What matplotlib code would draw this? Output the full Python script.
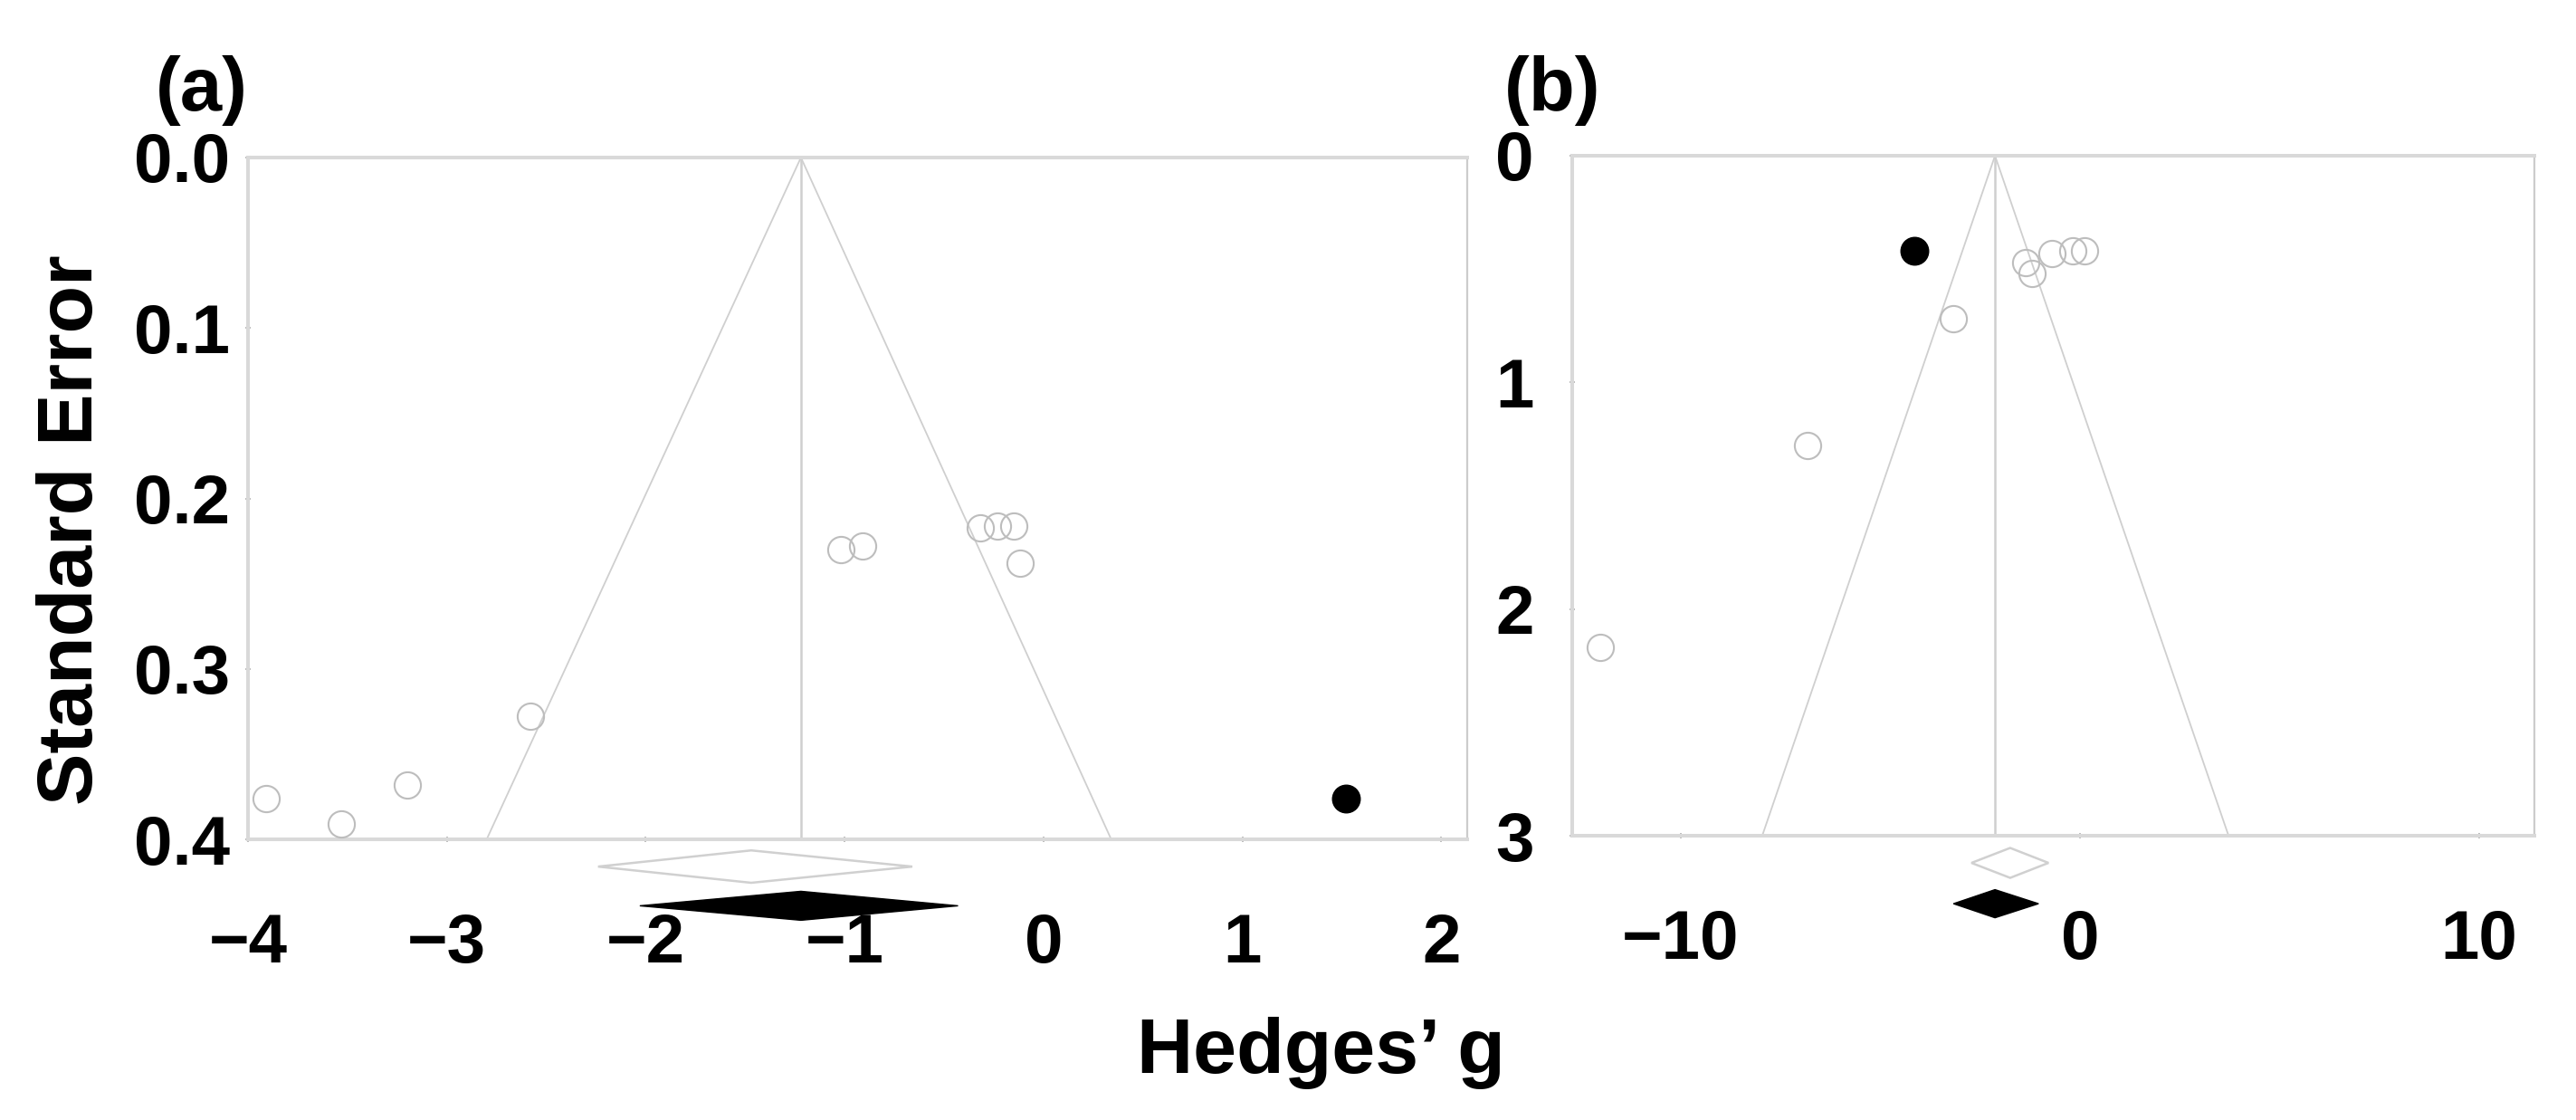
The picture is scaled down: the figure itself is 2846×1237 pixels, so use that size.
import matplotlib
matplotlib.use("Agg")
import matplotlib.pyplot as plt
from matplotlib.patches import Polygon

# ---------------- data ----------------
# Panel (a)
a_open_g = [-3.91, -3.53, -3.20, -2.58, -1.02, -0.91, -0.32, -0.23, -0.15, -0.12]
a_open_se = [0.376, 0.391, 0.368, 0.328, 0.230, 0.228, 0.217, 0.216, 0.216, 0.238]
a_fill_g = [1.52]
a_fill_se = [0.376]
a_center = -1.22
a_funnel_g = [-2.80, -1.22, 0.34]
a_funnel_se = [0.40, 0.0, 0.40]
a_diamond_open = [-2.24, -1.47, -0.66]   # lower, point, upper
a_diamond_fill = [-2.03, -1.22, -0.43]
a_xticks = [-4, -3, -2, -1, 0, 1, 2]
a_yticks = [0.0, 0.1, 0.2, 0.3, 0.4]
a_yticklabels = ["0.0", "0.1", "0.2", "0.3", "0.4"]

# Panel (b)
b_open_g = [-12.02, -6.83, -3.17, -1.36, -1.20, -0.70, -0.18, 0.11]
b_open_se = [2.17, 1.28, 0.72, 0.47, 0.52, 0.43, 0.42, 0.42]
b_fill_g = [-4.15]
b_fill_se = [0.42]
b_center = -2.13
b_funnel_g = [-7.96, -2.13, 3.72]
b_funnel_se = [3.0, 0.0, 3.0]
b_diamond_open = [-2.72, -1.75, -0.79]
b_diamond_fill = [-3.17, -2.13, -1.04]
b_xticks = [-10, 0, 10]
b_yticks = [0, 1, 2, 3]
b_yticklabels = ["0", "1", "2", "3"]

xlabel = "Hedges\u2019 g"
ylabel = "Standard Error"

# ---------------- style ----------------
plt.rcParams["font.family"] = ["Liberation Sans", "DejaVu Sans"]
plt.rcParams["font.weight"] = "bold"
plt.rcParams["axes.unicode_minus"] = True

W, H = 2846, 1237
fig = plt.figure(figsize=(W / 100, H / 100), dpi=100)
fig.patch.set_facecolor("white")

AXC = "#d9d9d9"
LINEC = "#cfcfcf"
CIRC = "#bdbdbd"
TICKFS = 55
LABFS = 62


def px_axes(left, top, right, bottom):
    return fig.add_axes([left / W, 1 - bottom / H, (right - left) / W, (bottom - top) / H])


def style(ax, ypad):
    for s in ["left", "bottom", "top"]:
        ax.spines[s].set_color(AXC)
        ax.spines[s].set_linewidth(2.9)
    ax.spines["right"].set_color("#cccccc")
    ax.spines["right"].set_linewidth(1.6)
    ax.tick_params(axis="both", direction="inout", length=5, width=1.4, color="#bdbdbd",
                   labelsize=TICKFS)
    ax.tick_params(axis="x", pad=56)
    ax.tick_params(axis="y", pad=ypad)
    for lab in ax.get_xticklabels() + ax.get_yticklabels():
        lab.set_fontweight("bold")


def diamond(ax, vals, yc, h, filled):
    lo, mid, hi = vals
    pts = [(lo, yc), (mid, yc - h), (hi, yc), (mid, yc + h)]
    if filled:
        p = Polygon(pts, closed=True, facecolor="black", edgecolor="black", lw=1.0, clip_on=False)
    else:
        p = Polygon(pts, closed=True, facecolor="white", edgecolor="#d0d0d0", lw=1.8, clip_on=False)
    ax.add_patch(p)


# ---------------- panel (a) ----------------
axa = px_axes(274, 174, 1621, 927)
axa.set_xlim(-4.0, 2.13)
axa.set_ylim(0.4, 0.0)
axa.plot(a_funnel_g, a_funnel_se, color=LINEC, lw=1.3, zorder=1)
axa.plot([a_center, a_center], [0.0, 0.4], color=LINEC, lw=1.8, zorder=1)
axa.plot(a_open_g, a_open_se, linestyle="none", marker="o", markersize=21,
         markerfacecolor="none", markeredgecolor=CIRC, markeredgewidth=1.5, zorder=3)
axa.plot(a_fill_g, a_fill_se, linestyle="none", marker="o", markersize=22,
         markerfacecolor="black", markeredgecolor="black", zorder=3)
diamond(axa, a_diamond_open, 0.416, 0.0095, False)
diamond(axa, a_diamond_fill, 0.439, 0.0085, True)
axa.set_xticks(a_xticks)
axa.set_xticklabels([str(t).replace("-", "\u2212") for t in a_xticks])
axa.set_yticks(a_yticks)
axa.set_yticklabels(a_yticklabels)
style(axa, ypad=12)

# ---------------- panel (b) ----------------
axb = px_axes(1737, 172, 2800, 923)
axb.set_xlim(-12.72, 11.38)
axb.set_ylim(3.0, 0.0)
axb.plot(b_funnel_g, b_funnel_se, color=LINEC, lw=1.3, zorder=1)
axb.plot([b_center, b_center], [0.0, 3.0], color=LINEC, lw=1.8, zorder=1)
axb.plot(b_open_g, b_open_se, linestyle="none", marker="o", markersize=21,
         markerfacecolor="none", markeredgecolor=CIRC, markeredgewidth=1.5, zorder=3)
axb.plot(b_fill_g, b_fill_se, linestyle="none", marker="o", markersize=22,
         markerfacecolor="black", markeredgecolor="black", zorder=3)
diamond(axb, b_diamond_open, 3.12, 0.066, False)
diamond(axb, b_diamond_fill, 3.30, 0.062, True)
axb.set_xticks(b_xticks)
axb.set_xticklabels([str(t).replace("-", "\u2212") for t in b_xticks])
axb.set_yticks(b_yticks)
axb.set_yticklabels(b_yticklabels)
style(axb, ypad=28)

# ---------------- labels ----------------
fig.text(1459 / W, 1 - 1185 / H, xlabel, ha="center", va="baseline",
         fontsize=LABFS, fontweight="bold")
fig.text(80 / W, 1 - 585 / H, ylabel, ha="center", va="center", rotation=90,
         fontsize=LABFS, fontweight="bold")
fig.text(223 / W, 1 - 100 / H, "(a)", ha="center", va="center", fontsize=60, fontweight="bold")
fig.text(1715 / W, 1 - 100 / H, "(b)", ha="center", va="center", fontsize=60, fontweight="bold")

fig.savefig("out.png", dpi=100, facecolor="white")
